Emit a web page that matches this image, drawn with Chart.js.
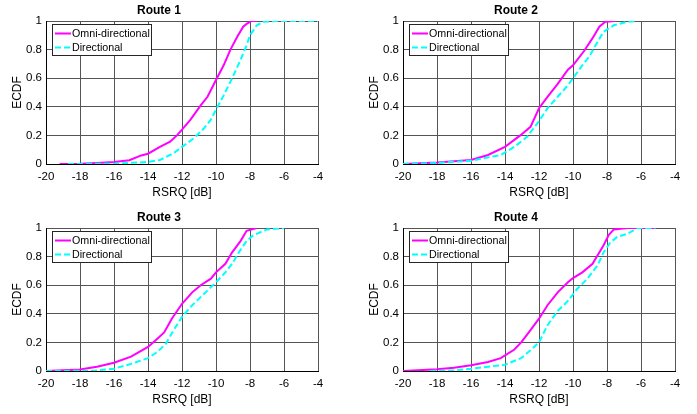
<!DOCTYPE html>
<html>
<head>
<meta charset="utf-8">
<script src="https://cdn.jsdelivr.net/npm/chart.js@4"></script>
<style>
  html, body { margin: 0; padding: 0; background: #fff; overflow: hidden; }
  #page { position: relative; width: 697px; height: 414px; }
  .panel { position: absolute; width: 348px; height: 207px; }
</style>
</head>
<body>
<div id="page">
  <div class="panel" style="left:0;top:0"><canvas id="c1"></canvas></div>
  <div class="panel" style="left:357px;top:0"><canvas id="c2"></canvas></div>
  <div class="panel" style="left:0;top:207px"><canvas id="c3"></canvas></div>
  <div class="panel" style="left:357px;top:207px"><canvas id="c4"></canvas></div>
</div>
<script>
// tick values
const xTicks = [-20, -18, -16, -14, -12, -10, -8, -6, -4];
const yTicks = [0, 0.2, 0.4, 0.6, 0.8, 1];
const seriesNames = ['Omni-directional', 'Directional'];
const routeTitles = ['Route 1', 'Route 2', 'Route 3', 'Route 4'];

// Route 1
const omniX1 = [-19.2, -18, -17, -16, -15.1, -14.4, -14, -13.3, -12.7, -12.3, -12, -11.5, -10.9, -10.5, -10, -9.55, -9.15, -8.75, -8.4, -8.2, -7.9, -7.6];
const omniY1 = [0, 0.002, 0.007, 0.014, 0.026, 0.06, 0.072, 0.12, 0.156, 0.2, 0.24, 0.31, 0.41, 0.47, 0.587, 0.69, 0.8, 0.89, 0.96, 0.98, 1, 1];
const dirX1 = [-18.7, -16, -14, -13.3, -12.5, -12, -11.3, -10.7, -10.3, -10, -9.55, -9.05, -8.55, -8.2, -8, -7.6, -7.2, -6.4, -4];
const dirY1 = [0, 0.002, 0.014, 0.028, 0.075, 0.12, 0.18, 0.25, 0.31, 0.38, 0.48, 0.6, 0.73, 0.83, 0.9, 0.97, 0.995, 1, 1];

// Route 2
const omniX2 = [-20, -18, -16, -15, -14, -13.1, -12.5, -12, -11.5, -10.9, -10.3, -10, -9.35, -8.85, -8.45, -8.1, -7.5];
const omniY2 = [0, 0.01, 0.028, 0.063, 0.12, 0.2, 0.26, 0.39, 0.47, 0.56, 0.66, 0.69, 0.79, 0.88, 0.96, 0.995, 1];
const dirX2 = [-20, -18, -16, -14.25, -13.45, -12.7, -12, -11.5, -10.9, -10.3, -10, -9.45, -9.05, -8.55, -8.2, -7.6, -6.8, -6.2];
const dirY2 = [0, 0.007, 0.023, 0.063, 0.12, 0.19, 0.3, 0.39, 0.47, 0.55, 0.6, 0.69, 0.75, 0.855, 0.925, 0.97, 0.995, 1];

// Route 3
const omniX3 = [-20, -18, -17, -16, -15, -14, -13.45, -13.05, -12.6, -12, -11.4, -10.9, -10.3, -10, -9.45, -9.05, -8.55, -8.2, -7.6];
const omniY3 = [0, 0.01, 0.03, 0.058, 0.1, 0.168, 0.226, 0.27, 0.366, 0.47, 0.55, 0.6, 0.646, 0.69, 0.75, 0.83, 0.91, 0.98, 1];
const dirX3 = [-20, -17.2, -16, -15, -14, -13.45, -12.95, -12.5, -12, -11.4, -10.7, -10, -9.45, -9.05, -8.65, -8.2, -7.8, -7, -6];
const dirY3 = [0, 0.002, 0.016, 0.05, 0.09, 0.133, 0.19, 0.284, 0.378, 0.46, 0.54, 0.62, 0.69, 0.75, 0.83, 0.91, 0.95, 0.99, 1];

// Route 4
const omniX4 = [-20, -18, -17, -16, -15, -14.25, -13.45, -13.05, -12.6, -12, -11.5, -10.9, -10.3, -10, -9.45, -8.85, -8.55, -8.2, -7.9, -7.6, -6.8, -5.15];
const omniY4 = [0, 0.012, 0.023, 0.04, 0.063, 0.09, 0.15, 0.2, 0.27, 0.366, 0.46, 0.55, 0.62, 0.65, 0.69, 0.75, 0.81, 0.88, 0.95, 0.99, 1, 1];
const dirX4 = [-18.4, -17, -16, -14, -13.05, -12.5, -12, -11.5, -10.9, -10.3, -9.75, -9.15, -8.55, -8.2, -7.8, -7.4, -6.8, -6.2, -5.15];
const dirY4 = [0, 0.005, 0.016, 0.044, 0.09, 0.145, 0.2, 0.32, 0.42, 0.49, 0.575, 0.645, 0.74, 0.83, 0.9, 0.937, 0.96, 1, 1];

const routes = [
  [omniX1, omniY1, dirX1, dirY1],
  [omniX2, omniY2, dirX2, dirY2],
  [omniX3, omniY3, dirX3, dirY3],
  [omniX4, omniY4, dirX4, dirY4]
];

const FONT = "'Liberation Sans', Arial, Helvetica, sans-serif";
const toPoints = (xs, ys) => xs.map((x, i) => ({ x: x, y: ys[i] }));

// boxed legend drawn inside the upper-left corner of the plot area
const insideLegend = {
  id: 'insideLegend',
  afterDatasetsDraw(chart) {
    const ctx = chart.ctx;
    const area = chart.chartArea;
    const x0 = area.left + 6, y0 = area.top + 3, w = 99, h = 31;
    ctx.save();
    ctx.fillStyle = '#fff';
    ctx.fillRect(x0, y0, w, h);
    ctx.strokeStyle = '#262626';
    ctx.lineWidth = 1;
    ctx.strokeRect(x0 + 0.5, y0 + 0.5, w, h);
    ctx.font = '10.7px ' + FONT;
    ctx.textBaseline = 'middle';
    ctx.fillStyle = '#000';
    chart.data.datasets.forEach((ds, i) => {
      const yy = y0 + 9.5 + i * 14;
      ctx.beginPath();
      ctx.strokeStyle = ds.borderColor;
      ctx.lineWidth = ds.borderWidth;
      ctx.setLineDash(ds.borderDash || []);
      ctx.moveTo(x0 + 3, yy);
      ctx.lineTo(x0 + 19, yy);
      ctx.stroke();
      ctx.setLineDash([]);
      ctx.fillText(ds.label, x0 + 20, yy + 0.5);
    });
    ctx.restore();
  }
};

function makeChart(id, title, r) {
  new Chart(document.getElementById(id), {
    type: 'line',
    data: {
      datasets: [
        {
          label: seriesNames[0],
          data: toPoints(r[0], r[1]),
          borderColor: '#ff00ff',
          borderWidth: 2,
          pointRadius: 0,
          tension: 0,
          order: 1
        },
        {
          label: seriesNames[1],
          data: toPoints(r[2], r[3]),
          borderColor: '#00ffff',
          borderWidth: 2,
          borderDash: [6, 3],
          pointRadius: 0,
          tension: 0,
          order: 0
        }
      ]
    },
    options: {
      responsive: false,
      animation: false,
      events: [],
      layout: { padding: { left: 0, right: 30, top: 0, bottom: 0 } },
      scales: {
        x: {
          type: 'linear',
          min: -20,
          max: -4,
          afterBuildTicks: s => { s.ticks = xTicks.map(v => ({ value: v })); },
          afterFit: s => { s.height = 43; },
          ticks: { color: '#000', padding: 6, font: { family: FONT, size: 11.5 }, callback: v => String(v) },
          grid: { color: '#555', lineWidth: 1, drawTicks: false },
          border: { color: '#000', width: 1 },
          title: {
            display: true,
            text: 'RSRQ [dB]',
            color: '#000',
            font: { family: FONT, size: 12 },
            padding: { top: 0, bottom: 7 }
          }
        },
        y: {
          type: 'linear',
          min: 0,
          max: 1,
          afterBuildTicks: s => { s.ticks = yTicks.map(v => ({ value: v })); },
          afterFit: s => { s.width = 46; },
          ticks: { color: '#000', padding: 4, font: { family: FONT, size: 11.5 }, callback: v => String(v) },
          grid: { color: '#555', lineWidth: 1, drawTicks: false },
          border: { color: '#000', width: 1 },
          title: {
            display: true,
            text: 'ECDF',
            color: '#000',
            font: { family: FONT, size: 12 },
            padding: { top: 10.8, bottom: 0 }
          }
        }
      },
      plugins: {
        legend: { display: false },
        tooltip: { enabled: false },
        title: {
          display: true,
          text: title,
          color: '#000',
          font: { family: FONT, size: 12, weight: 'bold' },
          padding: { top: 3.5, bottom: 3.1 }
        }
      }
    },
    plugins: [insideLegend]
  });
}

const canvases = ['c1', 'c2', 'c3', 'c4'];
canvases.forEach((id, i) => {
  const cv = document.getElementById(id);
  cv.width = 348;
  cv.height = 207;
  makeChart(id, routeTitles[i], routes[i]);
});
</script>
</body>
</html>
